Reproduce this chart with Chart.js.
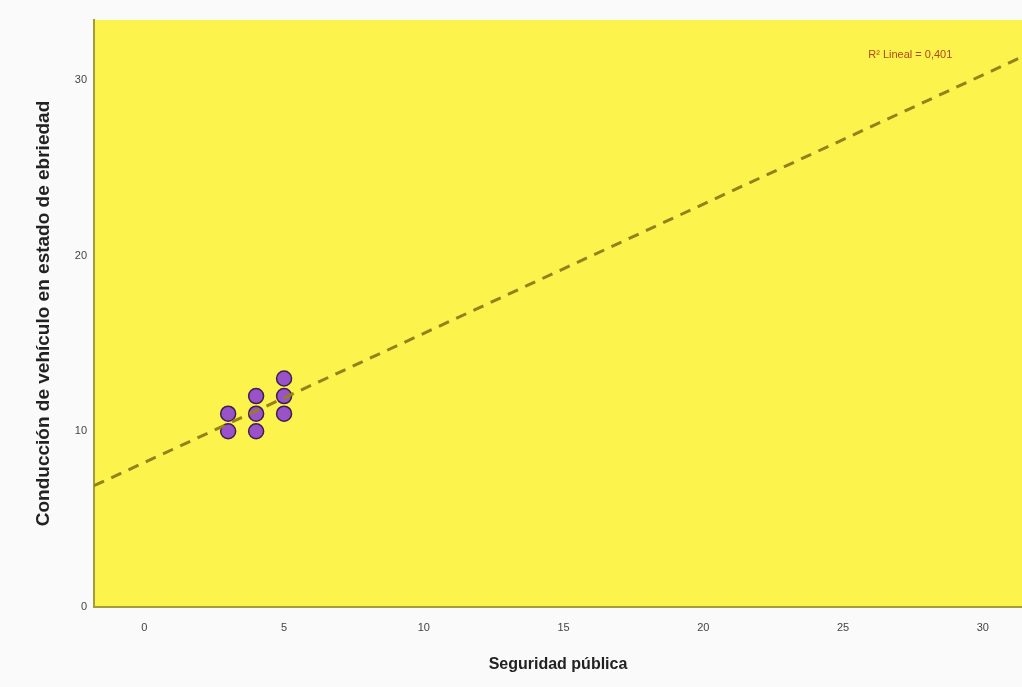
<!DOCTYPE html>
<html>
<head>
<meta charset="utf-8">
<script src="https://cdn.jsdelivr.net/npm/chart.js@4"></script>
<style>
  html, body { margin: 0; padding: 0; background: #fafafa; }
  #wrap { width: 1022px; height: 687px; }
</style>
</head>
<body>
<div id="wrap"><canvas id="graph"></canvas></div>
<script>
// observed points (Seguridad pública, Conducción en estado de ebriedad)
const seguridad = [3, 3, 4, 4, 4, 5, 5, 5];
const conduccion = [10, 11, 10, 11, 12, 11, 12, 13];

// fit line ends
const fitX = [-1.8, 31.4];
const fitY = [6.9, 31.3];

const xTicks = [0, 5, 10, 15, 20, 25, 30];
const yTicks = [0, 10, 20, 30];
const r2Label = 'R² Lineal = 0,401';

const points = seguridad.map((x, i) => ({x: x, y: conduccion[i]}));
const fitLine = fitX.map((x, i) => ({x: x, y: fitY[i]}));

const plotBg = {
    id: 'plotBg',
    beforeDraw(chart) {
        const a = chart.chartArea;
        const ctx = chart.ctx;
        ctx.save();
        ctx.fillStyle = '#fcf34c';
        ctx.fillRect(a.left, a.top, a.right - a.left, a.bottom - a.top);
        ctx.restore();
    }
};

const r2Text = {
    id: 'r2Text',
    afterDatasetsDraw(chart) {
        const ctx = chart.ctx;
        const x = chart.scales.x.getPixelForValue(25.9);
        const y = chart.scales.y.getPixelForValue(31.4);
        ctx.save();
        ctx.font = '11px "Liberation Sans", Arial, sans-serif';
        ctx.fillStyle = '#b0481a';
        ctx.textBaseline = 'middle';
        ctx.fillText(r2Label, x, y);
        ctx.restore();
    }
};

const config = {
    type: 'scatter',
    data: {
        datasets: [
            {
                label: 'Ajuste',
                type: 'line',
                data: fitLine,
                borderColor: '#96801a',
                borderWidth: 3,
                borderDash: [11, 8],
                pointRadius: 0,
                fill: false
            },
            {
                label: 'Observado',
                data: points,
                backgroundColor: '#9a52c8',
                borderColor: '#3b1f4f',
                borderWidth: 1.5,
                pointRadius: 7.5
            }
        ]
    },
    options: {
        responsive: true,
        maintainAspectRatio: false,
        animation: false,
        layout: { autoPadding: false, padding: { top: 20, right: 0, left: 28, bottom: 0 } },
        plugins: {
            legend: { display: false },
            tooltip: { enabled: false }
        },
        scales: {
            x: {
                type: 'linear',
                min: -1.8,
                max: 31.4,
                afterBuildTicks: scale => { scale.ticks = xTicks.map(v => ({value: v})); },
                afterFit: scale => { scale.height = 80; },
                grid: { display: false, drawTicks: false },
                border: { color: '#a39c3a', width: 2 },
                ticks: {
                    padding: 14,
                    color: '#444',
                    font: { family: '"Liberation Sans", Arial, sans-serif', size: 11 }
                },
                title: {
                    display: true,
                    text: 'Seguridad pública',
                    color: '#222',
                    padding: { top: 4, bottom: 13 },
                    font: { family: '"Liberation Sans", Arial, sans-serif', size: 16, weight: 'bold' }
                }
            },
            y: {
                min: 0,
                max: 33.4,
                afterBuildTicks: scale => { scale.ticks = yTicks.map(v => ({value: v})); },
                afterFit: scale => { scale.width = 66; },
                grid: { display: false, drawTicks: false },
                border: { color: '#a39c3a', width: 2 },
                ticks: {
                    padding: 7,
                    color: '#444',
                    font: { family: '"Liberation Sans", Arial, sans-serif', size: 11 }
                },
                title: {
                    display: true,
                    text: 'Conducción de vehículo en estado de ebriedad',
                    color: '#222',
                    padding: { bottom: 10 },
                    font: { family: '"Liberation Sans", Arial, sans-serif', size: 19, weight: 'bold' }
                }
            }
        }
    },
    plugins: [plotBg, r2Text]
};

var ctx = document.getElementById('graph').getContext('2d');
var graph = new Chart(ctx, config);
</script>
</body>
</html>
